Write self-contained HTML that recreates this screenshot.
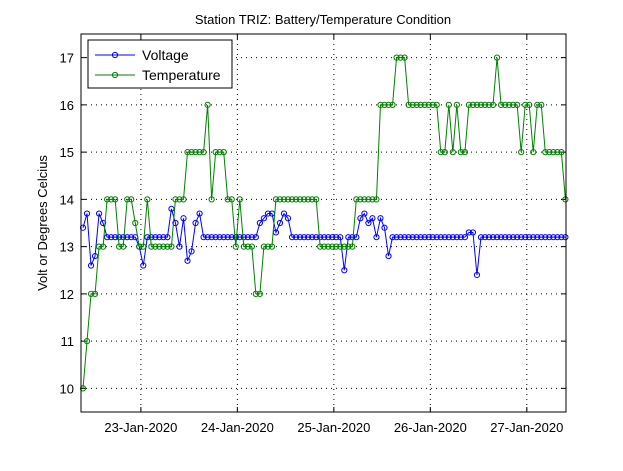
<!DOCTYPE html>
<html><head><meta charset="utf-8"><style>
body{margin:0;background:#fff;font-family:"Liberation Sans",sans-serif}
svg text{font-family:"Liberation Sans",sans-serif;font-size:13px}
</style></head><body>
<svg width="623" height="466" id="c">
<rect width="623" height="466" fill="#fff"/>
</svg>
<script>
const volt=[13.4,13.7,12.6,12.8,13.7,13.5,13.2,13.2,13.2,13.2,13.2,13.2,13.2,13.2,13.0,12.6,13.2,13.2,13.2,13.2,13.2,13.2,13.8,13.5,13.0,13.6,12.7,12.9,13.5,13.7,13.2,13.2,13.2,13.2,13.2,13.2,13.2,13.2,13.2,13.2,13.2,13.2,13.2,13.2,13.5,13.6,13.7,13.7,13.3,13.5,13.7,13.6,13.2,13.2,13.2,13.2,13.2,13.2,13.2,13.2,13.2,13.2,13.2,13.2,13.2,12.5,13.2,13.2,13.2,13.6,13.7,13.5,13.6,13.2,13.6,13.4,12.8,13.2,13.2,13.2,13.2,13.2,13.2,13.2,13.2,13.2,13.2,13.2,13.2,13.2,13.2,13.2,13.2,13.2,13.2,13.2,13.3,13.3,12.4,13.2,13.2,13.2,13.2,13.2,13.2,13.2,13.2,13.2,13.2,13.2,13.2,13.2,13.2,13.2,13.2,13.2,13.2,13.2,13.2,13.2,13.2];
const temp=[10,11,12,12,13,13,14,14,14,13,13,14,14,13.5,13,13,14,13,13,13,13,13,13,14,14,14,15,15,15,15,15,16,14,15,15,15,14,14,13,14,13,13,13,12,12,13,13,13,14,14,14,14,14,14,14,14,14,14,14,13,13,13,13,13,13,13,13,13,14,14,14,14,14,14,16,16,16,16,17,17,17,16,16,16,16,16,16,16,16,15,15,16,15,16,15,15,16,16,16,16,16,16,16,17,16,16,16,16,16,15,16,16,15,16,16,15,15,15,15,15,14];
const yTicks=[10,11,12,13,14,15,16,17];
const xTickHours=[14.4,38.4,62.4,86.4,110.4];
const xTickLabels=["23-Jan-2020","24-Jan-2020","25-Jan-2020","26-Jan-2020","27-Jan-2020"];
const L=81,R=566,T=34,B=412,NS="http://www.w3.org/2000/svg";
const sx=h=>83+h*4.02, sy=v=>B-(v-9.5)/8*(B-T);
const svg=document.getElementById('c');
function mk(t,a,p){const e=document.createElementNS(NS,t);for(const k in a)e.setAttribute(k,a[k]);(p||svg).appendChild(e);return e;}
mk('rect',{x:L,y:T,width:R-L,height:B-T,fill:'#fff'});
yTicks.forEach(v=>{const y=sy(v);
 const g=mk('line',{x1:L,x2:R,y1:y,y2:y,stroke:'#000','stroke-dasharray':'1 4','stroke-width':1});
 
 mk('line',{x1:L,x2:L+5,y1:y,y2:y,stroke:'#000'});mk('line',{x1:R,x2:R-5,y1:y,y2:y,stroke:'#000'});
 const t=mk('text',{x:L-7,y:y+5,'text-anchor':'end'});t.textContent=v;
 });
xTickHours.forEach((h,i)=>{const x=sx(h);
 mk('line',{x1:x,x2:x,y1:T,y2:B,stroke:'#000','stroke-dasharray':'1 4'});
 mk('line',{x1:x,x2:x,y1:B,y2:B-5,stroke:'#000'});mk('line',{x1:x,x2:x,y1:T,y2:T+5,stroke:'#000'});
 const t=mk('text',{x:x,y:B+20,'text-anchor':'middle'});t.textContent=xTickLabels[i];
 });
function series(arr,col,name){
 const g=mk('g',{});
 mk('polyline',{points:arr.map((v,i)=>sx(i)+','+sy(v)).join(' '),fill:'none',stroke:col,'stroke-width':1},g);
 arr.forEach((v,i)=>mk('circle',{cx:sx(i),cy:sy(v),r:2.6,fill:'none',stroke:col,'stroke-width':1},g));}
series(volt,'#0000ff','voltage-series');
series(temp,'#008000','temperature-series');
mk('rect',{x:L,y:T,width:R-L,height:B-T,fill:'none',stroke:'#000'});
// legend
const lg=mk('g',{});
mk('rect',{x:88,y:40,width:144,height:48,fill:'#fff',stroke:'#000'},lg);
[['Voltage','#0000ff',55],['Temperature','#008000',75]].forEach(([n,c,y])=>{
 mk('line',{x1:95,x2:135,y1:y,y2:y,stroke:c},lg);mk('circle',{cx:115,cy:y,r:2.6,fill:'none',stroke:c},lg);
 const t=mk('text',{x:142,y:y+5,'font-size':'14'},lg);t.textContent=n;t.style.fontSize='14px';});
const tt=mk('text',{x:323,y:24,'text-anchor':'middle'});tt.textContent='Station TRIZ: Battery/Temperature Condition';

const yl=mk('text',{x:0,y:0,'text-anchor':'middle',transform:'translate(47,223) rotate(-90)'});yl.textContent='Volt or Degrees Celcius';

</script>
</body></html>
